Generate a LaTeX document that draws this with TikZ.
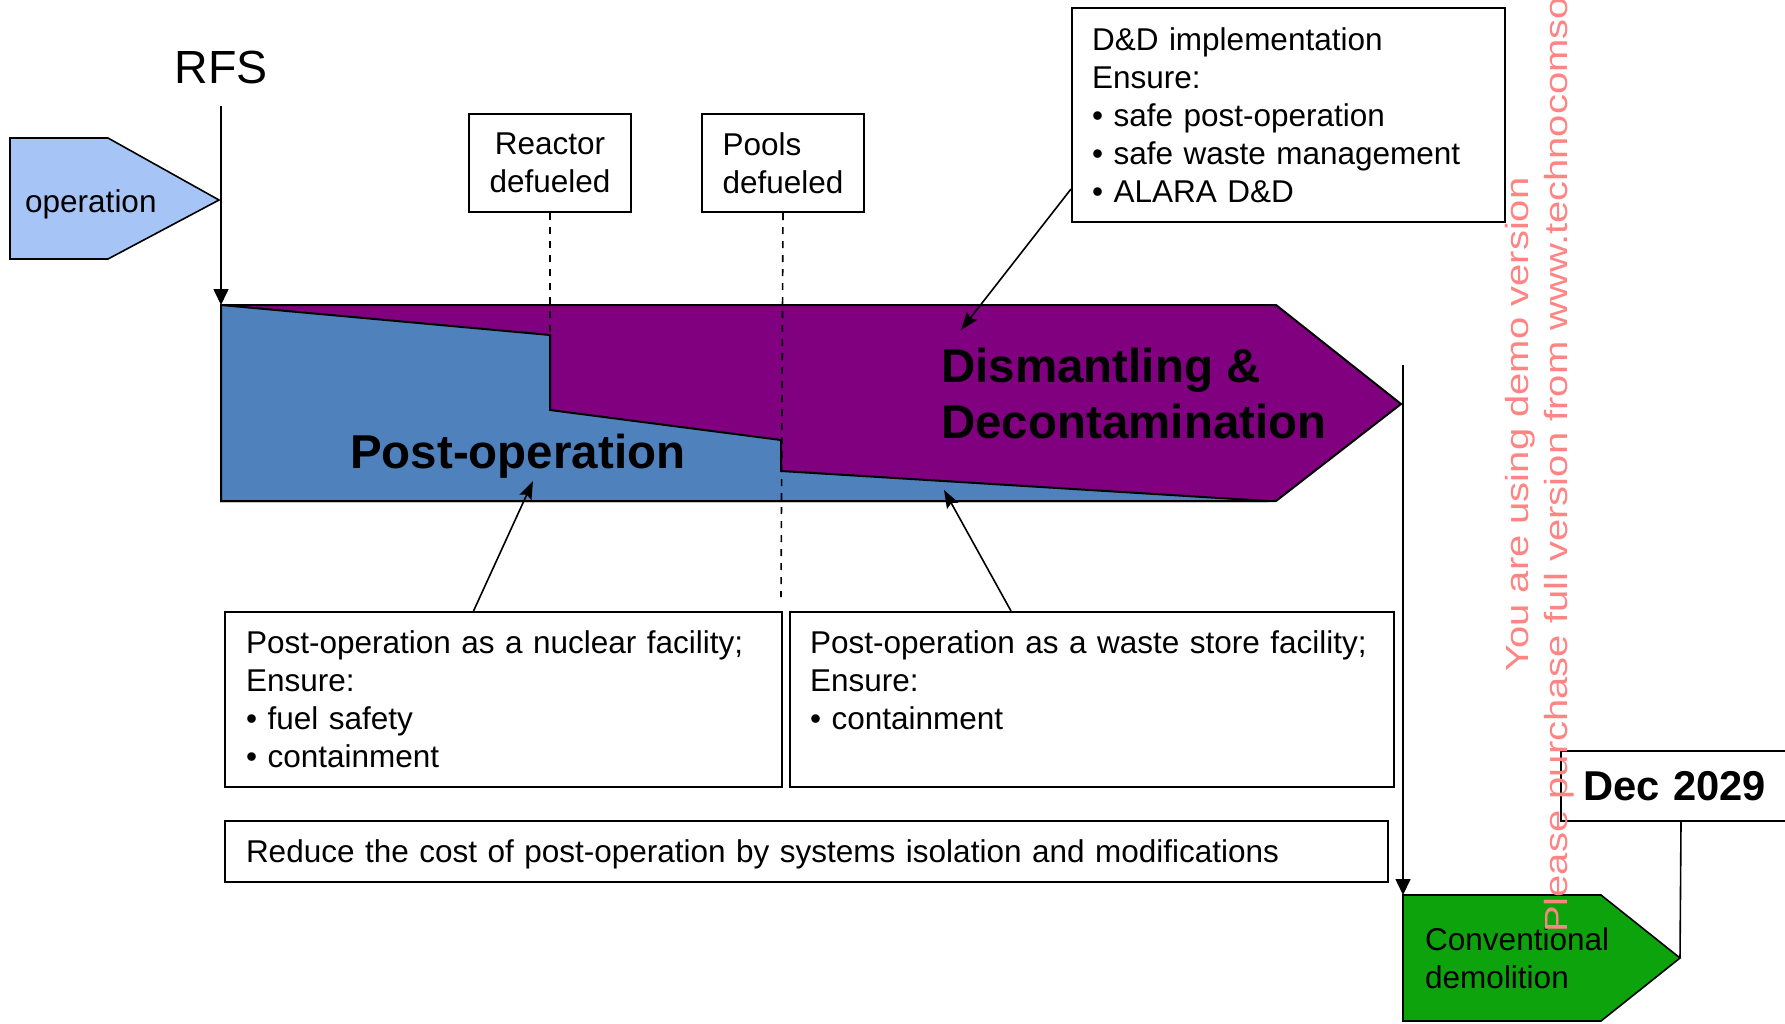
\documentclass[tikz,border=0pt]{standalone}
\usepackage{fontspec}
\setmainfont{Liberation Sans}
\newfontfamily\wmfont[FakeStretch=1.25]{Liberation Sans}
\usetikzlibrary{arrows.meta,positioning}
\definecolor{opblue}{HTML}{A6C4F5}
\definecolor{postblue}{HTML}{4F81BD}
\definecolor{ddpurple}{HTML}{800080}
\definecolor{demogreen}{HTML}{0CA30C}
\definecolor{demored}{HTML}{FF8484}
\newcommand{\txtsize}{\fontsize{31.5}{38}\selectfont}
\newcommand{\bigsize}{\fontsize{47.5}{56}\selectfont\bfseries}

\begin{document}
\begin{tikzpicture}[x=1pt,y=-1pt,
        every node/.style={font=\txtsize},
        box/.style={draw,fill=white,line width=2pt,inner sep=0pt},
        pointer/.style={-{Stealth[length=18pt,width=13pt,inset=3pt]},line width=1.6pt},
        timeline/.style={-{Triangle[length=16pt,width=15pt]},line width=1.6pt},
        milestone/.style={dash pattern=on 7pt off 7pt,line width=1.6pt}]
        \path[use as bounding box,fill=white] (0,0) rectangle (1785,1023);
        \node[inner sep=0pt,font=\fontsize{46.5}{56}\selectfont] (rfs) at (221,67) {RFS};
        \draw[fill=opblue,line width=1.6pt] (10,138) -- (108,138) -- (219,200) -- (108,259) -- (10,259) -- cycle;
        \node[anchor=base west,inner sep=0pt] (operation) at (25,212) {operation};
        \draw[fill=ddpurple,line width=2pt] (221,305) -- (1276,305) -- (1401,404) -- (1276,501) -- (221,501) -- cycle;
        \draw[fill=postblue,line width=2pt] (221,305) -- (550,335) -- (550,410) -- (781,440) -- (781,471) -- (1268,501) -- (221,501) -- cycle;
        \coordinate (postcorner) at (221,305);
        \coordinate (reactorstep) at (550,335);
        \coordinate (poolsend) at (781,597);
        \coordinate (posttip) at (533,481);
        \coordinate (wastetip) at (944,490);
        \coordinate (ddpoint) at (961,330);
        \coordinate (convtop) at (1403,365);
        \node[anchor=base west,inner sep=0pt,font=\bigsize] (posttext) at (350,468) {Post-operation};
        \node[anchor=north west,inner sep=0pt,align=left,font=\bigsize] (ddtext) at (941,348) {Dismantling \&\\Decontamination};
        \draw[timeline] ([yshift=-22pt]rfs.south) -- (postcorner);
        \node[box,minimum width=162pt,minimum height=98pt,align=center] (reactor) at (550,163) {Reactor\\defueled};
        \node[box,minimum width=162pt,minimum height=98pt,align=left,right=69pt of reactor] (pools) {Pools\\defueled};
        \draw[milestone] (reactor.south) -- (reactorstep);
        \draw[milestone] (pools.south) -- (poolsend);
        \node[box,anchor=north west,minimum height=214pt,text width=393pt,inner xsep=20pt,align=left] (ddbox) at (1071,7)
            {D\&D implementation\\Ensure:\\• safe post-operation\\• safe waste management\\• ALARA D\&D};
        \node[box,anchor=north west,minimum height=175pt,text width=515pt,inner xsep=21pt,align=left] (nucbox) at (224,611)
            {Post-operation as a nuclear facility;\\Ensure:\\• fuel safety\\• containment};
        \node[box,minimum height=175pt,text width=564pt,inner xsep=20pt,text depth=114pt,align=left,right=6pt of nucbox] (wastebox)
            {Post-operation as a waste store facility;\\Ensure:\\• containment};
        \node[box,anchor=north west,minimum height=61pt,text width=1121pt,inner xsep=21pt,text depth=0pt,align=left] (reducebox)
            at ([yshift=-32pt]nucbox.south west) {Reduce the cost of post-operation by systems isolation and modifications};
        \draw[pointer] ([xshift=-30pt]nucbox.north) -- (posttip);
        \draw[pointer] ([xshift=-81pt]wastebox.north) -- (wastetip);
        \draw[pointer] ([yshift=-74pt]ddbox.west) -- (ddpoint);
        \draw[fill=demogreen,line width=1.6pt] (1403,895) -- (1601,895) -- (1680,958) -- (1601,1021) -- (1403,1021) -- cycle;
        \coordinate (convcorner) at (1403,895);
        \coordinate (convtip) at (1680,958);
        \node[anchor=north west,inner sep=0pt,align=left] (convtext) at (1425,927) {Conventional\\demolition};
        \draw[timeline] (convtop) -- (convcorner);
        \node[box,anchor=north west,minimum height=70pt,text width=196pt,inner xsep=22pt,align=left,font=\fontsize{41.7}{50}\selectfont\bfseries] (decbox)
            at (1560,750) {Dec 2029};
        \draw[line width=1.6pt] (decbox.south) -- (convtip);
        \node[rotate=90,anchor=base west,inner sep=0pt,text=demored,font=\wmfont\fontsize{32}{38}\selectfont] (demoline) at (1528,672) {You are using demo version};
        \node[rotate=90,anchor=base west,inner sep=0pt,text=demored,font=\wmfont\fontsize{32}{38}\selectfont] (buyline) at (1567,933) {Please purchase full version from www.technocomso};
\end{tikzpicture}
\end{document}
